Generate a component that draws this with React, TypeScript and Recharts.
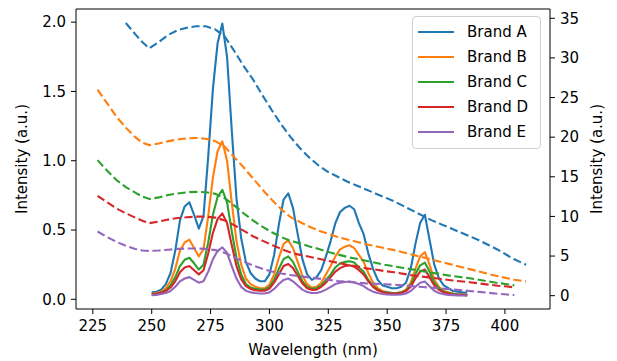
import { LineChart, Line, XAxis, YAxis, Legend, ReferenceLine } from 'recharts';

// emission spectra (left axis), 2 nm steps
const solidWl = [
  250, 252, 254, 256, 258, 260, 262, 264, 266, 268,
  270, 272, 274, 276, 278, 280, 282, 284, 286, 288,
  290, 292, 294, 296, 298, 300, 302, 304, 306, 308,
  310, 312, 314, 316, 318, 320, 322, 324, 326, 328,
  330, 332, 334, 336, 338, 340, 342, 344, 346, 348,
  350, 352, 354, 356, 358, 360, 362, 364, 366, 368,
  370, 372, 374, 376, 378, 380, 382, 384,
];
const brandA = [
  0.05, 0.055, 0.07, 0.11, 0.19, 0.35, 0.57, 0.67, 0.70, 0.61,
  0.51, 0.6, 1.03, 1.52, 1.85, 1.99, 1.75, 1.22, 0.73, 0.44,
  0.27, 0.19, 0.15, 0.13, 0.13, 0.18, 0.32, 0.54, 0.72, 0.765,
  0.66, 0.47, 0.29, 0.18, 0.14, 0.16, 0.21, 0.31, 0.42, 0.55,
  0.63, 0.66, 0.675, 0.65, 0.55, 0.47, 0.33, 0.22, 0.14, 0.1,
  0.09, 0.08, 0.08, 0.09, 0.12, 0.22, 0.4, 0.55, 0.61, 0.43,
  0.25, 0.15, 0.1, 0.08, 0.06, 0.055, 0.05, 0.048,
];
const brandB = [
  0.04, 0.045, 0.055, 0.08, 0.13, 0.22, 0.35, 0.41, 0.43, 0.37,
  0.31, 0.36, 0.6, 0.88, 1.07, 1.14, 1.0, 0.7, 0.42, 0.25,
  0.15, 0.11, 0.09, 0.08, 0.08, 0.105, 0.18, 0.3, 0.4, 0.425,
  0.37, 0.27, 0.17, 0.11, 0.085, 0.09, 0.12, 0.18, 0.24, 0.31,
  0.36, 0.38, 0.39, 0.37, 0.32, 0.27, 0.19, 0.12, 0.08, 0.06,
  0.05, 0.045, 0.045, 0.05, 0.07, 0.12, 0.22, 0.31, 0.34, 0.25,
  0.14, 0.09, 0.06, 0.05, 0.04, 0.035, 0.035, 0.03,
];
const brandC = [
  0.035, 0.04, 0.05, 0.065, 0.1, 0.16, 0.24, 0.285, 0.3, 0.26,
  0.215, 0.25, 0.41, 0.61, 0.74, 0.79, 0.7, 0.49, 0.3, 0.18,
  0.11, 0.085, 0.075, 0.07, 0.07, 0.09, 0.14, 0.22, 0.29, 0.31,
  0.27, 0.2, 0.13, 0.09, 0.075, 0.08, 0.1, 0.14, 0.18, 0.23,
  0.26, 0.27, 0.275, 0.265, 0.23, 0.2, 0.14, 0.095, 0.07, 0.055,
  0.05, 0.045, 0.045, 0.05, 0.065, 0.1, 0.18, 0.245, 0.265, 0.2,
  0.12, 0.08, 0.055, 0.045, 0.04, 0.035, 0.035, 0.03,
];
const brandD = [
  0.035, 0.04, 0.048, 0.06, 0.085, 0.13, 0.195, 0.23, 0.24, 0.21,
  0.18, 0.21, 0.33, 0.48, 0.58, 0.62, 0.55, 0.39, 0.24, 0.145,
  0.095, 0.075, 0.065, 0.062, 0.062, 0.078, 0.12, 0.18, 0.24, 0.255,
  0.225, 0.17, 0.115, 0.08, 0.068, 0.07, 0.09, 0.12, 0.16, 0.2,
  0.225, 0.24, 0.245, 0.235, 0.21, 0.18, 0.13, 0.09, 0.065, 0.052,
  0.046, 0.042, 0.042, 0.046, 0.06, 0.09, 0.15, 0.2, 0.215, 0.16,
  0.1, 0.068, 0.05, 0.042, 0.036, 0.033, 0.032, 0.03,
];
const brandE = [
  0.03, 0.032, 0.038, 0.045, 0.06, 0.09, 0.13, 0.15, 0.16, 0.14,
  0.12, 0.13, 0.2, 0.29, 0.35, 0.375, 0.335, 0.24, 0.15, 0.09,
  0.062, 0.05, 0.045, 0.042, 0.042, 0.05, 0.075, 0.11, 0.14, 0.15,
  0.13, 0.1, 0.07, 0.052, 0.045, 0.046, 0.055, 0.07, 0.09, 0.11,
  0.12, 0.125, 0.128, 0.122, 0.11, 0.095, 0.072, 0.055, 0.045, 0.038,
  0.035, 0.033, 0.033, 0.035, 0.042, 0.06, 0.09, 0.12, 0.128, 0.095,
  0.062, 0.045, 0.036, 0.032, 0.03, 0.028, 0.027, 0.026,
];

// absorption curves (right axis, dashed)
const dashWl = [
  227, 231, 235, 239, 243, 246, 249, 253, 257, 261,
  265, 269, 273, 277, 281, 285, 289, 293, 297, 301,
  305, 309, 313, 317, 321, 325, 329, 333, 337, 341,
  345, 349, 353, 357, 361, 365, 369, 373, 377, 381,
  385, 389, 393, 397, 401, 404, 409,
];
const absA = [
  null, null, null, 34.4, 33.0, 32.0, 31.2, 32.0, 32.9, 33.5,
  33.8, 34.0, 34.0, 33.6, 32.7, 30.9, 29.0, 27.3, 25.3, 23.4,
  21.6, 20.0, 18.6, 17.4, 16.4, 15.6, 15.0, 14.4, 13.9, 13.4,
  12.9, 12.4, 11.9, 11.3, 10.7, 10.1, 9.5, 9.0, 8.5, 8.0,
  7.5, 7.0, 6.4, 5.8, 5.1, 4.6, 3.9,
];
const absB = [
  26.0, 24.3, 22.6, 21.2, 20.0, 19.3, 19.0, 19.2, 19.5, 19.7,
  19.85, 19.9, 19.8, 19.5, 18.8, 17.5, 16.2, 14.8, 13.4, 12.1,
  10.9, 9.9, 9.3, 8.7, 8.2, 7.8, 7.4, 7.1, 6.8, 6.5,
  6.25, 6.0, 5.75, 5.45, 5.15, 4.85, 4.55, 4.25, 3.95, 3.65,
  3.35, 3.05, 2.75, 2.45, 2.2, 2.0, 1.8,
];
const absC = [
  17.1, 15.8, 14.6, 13.7, 13.0, 12.5, 12.2, 12.4, 12.7, 12.9,
  13.05, 13.1, 13.05, 12.85, 12.3, 11.4, 10.4, 9.5, 8.7, 8.0,
  7.4, 6.9, 6.6, 6.2, 5.9, 5.5, 5.2, 4.9, 4.65, 4.4,
  4.15, 3.9, 3.7, 3.5, 3.3, 3.1, 2.9, 2.7, 2.5, 2.35,
  2.2, 2.0, 1.8, 1.6, 1.45, 1.3, null,
];
const absD = [
  12.6, 11.8, 11.0, 10.4, 9.85, 9.45, 9.15, 9.35, 9.6, 9.8,
  9.9, 9.97, 9.97, 9.85, 9.5, 8.9, 8.2, 7.5, 6.95, 6.4,
  5.9, 5.45, 5.15, 4.9, 4.65, 4.4, 4.15, 3.9, 3.7, 3.45,
  3.3, 3.1, 2.95, 2.75, 2.55, 2.4, 2.25, 2.1, 1.95, 1.82,
  1.7, 1.55, 1.4, 1.25, 1.15, 1.05, null,
];
const absE = [
  8.1, 7.4, 6.8, 6.3, 5.9, 5.7, 5.65, 5.7, 5.8, 5.9,
  5.95, 5.95, 5.9, 5.75, 5.4, 4.85, 4.3, 3.8, 3.4, 3.05,
  2.8, 2.6, 2.45, 2.3, 2.15, 2.0, 1.85, 1.75, 1.65, 1.55,
  1.5, 1.45, 1.38, 1.3, 1.2, 1.1, 1.0, 0.9, 0.8, 0.7,
  0.6, 0.48, 0.36, 0.24, 0.14, 0.08, null,
];

const brands = ['Brand A', 'Brand B', 'Brand C', 'Brand D', 'Brand E'];
const colors = ['#1f77b4', '#ff7f0e', '#2ca02c', '#d62728', '#9467bd'];
const xTicks = [225, 250, 275, 300, 325, 350, 375, 400];
const leftTicks = [0, 0.5, 1, 1.5, 2];
const rightTicks = [0, 5, 10, 15, 20, 25, 30, 35];

const solidSeries = [brandA, brandB, brandC, brandD, brandE];
const dashSeries = [absA, absB, absC, absD, absE];

const toPoints = (wl: number[], vals: (number | null)[]) =>
  wl.map((w, i) => ({ wl: w, v: vals[i] }));

const FONT = 'DejaVu Sans, sans-serif';
const tickStyle = { fill: '#000', fontSize: 15, fontFamily: FONT };
const labelStyle = { fill: '#000', fontSize: 15, fontFamily: FONT };

function LegendBox() {
  return (
    <div
      style={{
        width: 127,
        height: 129,
        border: '1px solid #d0d0d0',
        borderRadius: 4,
        background: 'rgba(255,255,255,0.8)',
        fontFamily: FONT,
        fontSize: 15,
        color: '#000',
        paddingTop: 2,
        boxSizing: 'content-box',
      }}
    >
      {brands.map((b, i) => (
        <div key={b} style={{ height: 25, display: 'flex', alignItems: 'center' }}>
          <div style={{ width: 36, height: 2, background: colors[i], marginLeft: 5, marginRight: 13 }} />
          <span>{b}</span>
        </div>
      ))}
    </div>
  );
}

export default function App() {
  return (
    <div style={{ position: 'absolute', left: 0, top: 0, background: '#fff' }}>
      <LineChart width={617} height={361} margin={{ top: 9, right: 0, bottom: 0, left: 0 }}>
        <XAxis
          type="number"
          dataKey="wl"
          domain={[217.85, 419.15]}
          allowDataOverflow
          ticks={xTicks}
          interval={0}
          height={52}
          tickSize={5}
          tickMargin={6}
          tick={tickStyle}
          tickLine={{ stroke: '#000' }}
          axisLine={{ stroke: '#000' }}
          label={{ value: 'Wavelength (nm)', position: 'center', dy: 15, style: labelStyle }}
        />
        <YAxis
          yAxisId="l"
          width={76}
          domain={[-0.07, 2.095]}
          allowDataOverflow
          ticks={leftTicks}
          interval={0}
          tickFormatter={(v: number) => v.toFixed(1)}
          tickSize={5}
          tickMargin={5}
          tick={tickStyle}
          tickLine={{ stroke: '#000' }}
          axisLine={{ stroke: '#000' }}
          label={{ value: 'Intensity (a.u.)', angle: -90, position: 'center', dx: -16, style: labelStyle }}
        />
        <YAxis
          yAxisId="r"
          orientation="right"
          width={67}
          domain={[-1.68, 36.17]}
          allowDataOverflow
          ticks={rightTicks}
          interval={0}
          tickSize={5}
          tickMargin={5}
          tick={tickStyle}
          tickLine={{ stroke: '#000' }}
          axisLine={{ stroke: '#000' }}
          label={{ value: 'Intensity (a.u.)', angle: -90, position: 'center', dx: 13, style: labelStyle }}
        />
        <ReferenceLine yAxisId="l" y={2.095} stroke="#000" />
        {solidSeries.map((vals, i) => (
          <Line
            key={'s' + i}
            yAxisId="l"
            data={toPoints(solidWl, vals)}
            dataKey="v"
            name={brands[i]}
            type="linear"
            stroke={colors[i]}
            strokeWidth={2.1}
            strokeLinejoin="round"
            dot={false}
            activeDot={false}
            isAnimationActive={false}
          />
        ))}
        {dashSeries.map((vals, i) => (
          <Line
            key={'d' + i}
            yAxisId="r"
            data={toPoints(dashWl, vals)}
            dataKey="v"
            type="linear"
            stroke={colors[i]}
            strokeWidth={2.1}
            strokeDasharray="8.2 3.6"
            dot={false}
            activeDot={false}
            legendType="none"
            isAnimationActive={false}
          />
        ))}
        <Legend
          layout="vertical"
          align="center"
          verticalAlign="middle"
          wrapperStyle={{ left: 412, top: 16, width: 129, height: 131 }}
          content={() => <LegendBox />}
        />
      </LineChart>
    </div>
  );
}
